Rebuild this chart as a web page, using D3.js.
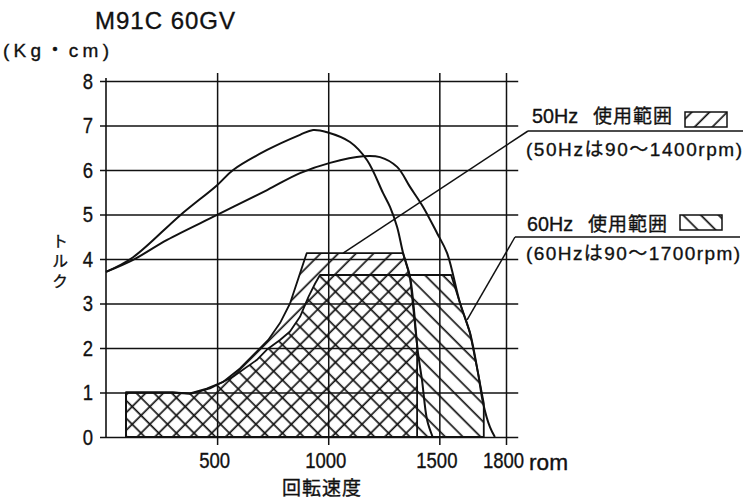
<!DOCTYPE html>
<html>
<head>
<meta charset="utf-8">
<script src="https://cdn.jsdelivr.net/npm/d3@7"></script>
<style>
  body { margin: 0; background: #fff; }
  svg { display: block; font-family: "Liberation Sans", "Noto Sans CJK JP", sans-serif; }
  text { fill: #111; stroke: #111; stroke-width: 0.35px; }
</style>
</head>
<body>
<svg id="chart" width="755" height="502"></svg>
<script>
const RPM_TICKS = [500, 1000, 1500, 1800];
const TORQUE_TICKS = [0, 1, 2, 3, 4, 5, 6, 7, 8];

// torque curves, [rpm, kg·cm]
const curve50 = [[0, 3.71], [122, 4.04], [333, 4.98], [500, 5.66], [572, 6.0], [725, 6.45], [873, 6.79],
    [932, 6.9], [995, 6.85], [1098, 6.63], [1175, 6.22], [1247, 5.48], [1278, 5.17], [1310, 4.72],
    [1337, 4.13], [1368, 3.6], [1404, 1.89], [1422, 1.28], [1445, 0.38], [1470, 0]];
const curve60 = [[0, 3.71], [122, 3.98], [275, 4.43], [500, 4.99], [725, 5.55], [873, 5.93], [1008, 6.16],
    [1157, 6.31], [1233, 6.29], [1310, 6.07], [1368, 5.62], [1427, 5.17], [1490, 4.58], [1535, 4.13],
    [1593, 3.01], [1638, 2.34], [1674, 1.44], [1697, 0.76], [1728, 0.22], [1750, 0]];

// outlines of the usable ranges (hatched)
const range50 = [[90, 0], [90, 1.0], [300, 1.0], [378, 0.98], [453, 1.09], [528, 1.24], [603, 1.54],
    [678, 1.92], [730, 2.18], [783, 2.56], [828, 3.0], [866, 3.57], [903, 4.13], [1337, 4.13],
    [1368, 3.6], [1400, 2.05], [1400, 0]];
const range60 = [[90, 0], [90, 1.0], [300, 1.0], [378, 0.97], [468, 1.09], [573, 1.36], [678, 1.73],
    [723, 1.96], [783, 2.18], [828, 2.37], [873, 2.7], [911, 3.15], [941, 3.45], [963, 3.64],
    [1553, 3.64], [1593, 3.01], [1638, 2.34], [1674, 1.44], [1700, 0.76], [1700, 0]];

const legendTitles = ["50Hz", "60Hz"];
const legendNames = ["使用範囲", "使用範囲"];
const legendNotes = ["(50Hzは90〜1400rpm)", "(60Hzは90〜1700rpm)"];
const leaderTargets = [[1067, 4.13], [1625, 2.63]];

const INK = "#111";
const DIGIT_W = 10.3; // the print uses a narrow face
const svg = d3.select("#chart");
const x = d3.scaleLinear().domain([0, 1800]).range([106, 506]);
const y = d3.scaleLinear().domain([0, 8]).range([437, 81]);

const defs = svg.append("defs");
const hatch = (id, angle) => {
    const p = defs.append("pattern")
        .attr("id", id)
        .attr("patternUnits", "userSpaceOnUse")
        .attr("width", 12.5)
        .attr("height", 12.5)
        .attr("patternTransform", `rotate(${angle})`);
    p.append("line")
        .attr("x1", 6).attr("y1", 0).attr("x2", 6).attr("y2", 12.5)
        .attr("stroke", INK).attr("stroke-width", 1.7);
};
hatch("h50", 45);
hatch("h60", -45);

// title + units
svg.append("text").attr("x", 95).attr("y", 29).attr("font-size", 24)
    .attr("textLength", 140).attr("lengthAdjust", "spacing").text("M91C 60GV");
svg.append("text").attr("x", 3).attr("y", 57).attr("font-size", 19)
    .attr("textLength", 106).attr("lengthAdjust", "spacing").text("(Kg・cm)");

const narrow = (sel) => sel
    .attr("textLength", function () { return this.textContent.length * DIGIT_W; })
    .attr("lengthAdjust", "spacingAndGlyphs");

// horizontal grid + torque labels
const gy = svg.append("g").attr("transform", "translate(100,0)")
    .call(d3.axisLeft(y).tickValues(TORQUE_TICKS).tickSize(-(x(1855) - 100)).tickPadding(7)
        .tickFormat(d3.format("d")));
gy.select(".domain").remove();
gy.attr("font-size", 22).attr("font-family", null);
gy.selectAll("line").attr("stroke", INK).attr("stroke-width", 1.5);
gy.selectAll("text").attr("fill", INK).call(narrow);

// vertical grid + rpm labels
const gx = svg.append("g").attr("transform", "translate(0,445)")
    .call(d3.axisBottom(x).tickValues(RPM_TICKS).tickSize(-(445 - 73)).tickPadding(7)
        .tickFormat(d3.format("d")));
gx.select(".domain").remove();
gx.attr("font-size", 22).attr("font-family", null);
gx.selectAll("line").attr("stroke", INK).attr("stroke-width", 1.5);
gx.selectAll("text").attr("fill", INK).attr("dx", -3).call(narrow);
svg.append("text").attr("x", 529).attr("y", 470).attr("font-size", 22)
    .attr("textLength", 39).attr("lengthAdjust", "spacingAndGlyphs").text("rom");

svg.append("line")
    .attr("x1", x(0)).attr("x2", x(0)).attr("y1", 78).attr("y2", y(0))
    .attr("stroke", INK).attr("stroke-width", 1.6);

// axis titles
svg.append("text").attr("x", 322).attr("y", 495).attr("font-size", 19)
    .attr("text-anchor", "middle").attr("letter-spacing", 1)
    .attr("font-family", "Noto Sans CJK JP").text("回転速度");
svg.append("text").attr("x", 60).attr("y", 233).attr("font-size", 16)
    .attr("writing-mode", "vertical-rl").attr("letter-spacing", 4)
    .attr("font-family", "Noto Sans CJK JP").text("トルク");

// hatched ranges
const poly = d3.line().x((d) => x(d[0])).y((d) => y(d[1]));
[[range60, "h60"], [range50, "h50"]].forEach(([r, id]) => {
    svg.append("path").attr("d", poly(r) + "Z").attr("fill", `url(#${id})`);
});
[range60, range50].forEach((r) => {
    svg.append("path").attr("d", poly(r) + "Z")
        .attr("fill", "none").attr("stroke", INK).attr("stroke-width", 1.8)
        .attr("stroke-linejoin", "round");
});

// torque curves
const smooth = d3.line().x((d) => x(d[0])).y((d) => y(d[1])).curve(d3.curveCatmullRom.alpha(0.5));
[curve50, curve60].forEach((c) => {
    svg.append("path").attr("d", smooth(c))
        .attr("fill", "none").attr("stroke", INK).attr("stroke-width", 2);
});

// legend with leader lines
const LEG = [
    { tx: 532, nx: 593, ty: 123, sw: [685, 112], ny: 156, nw: 216, ul: [528, 743, 131] },
    { tx: 527, nx: 588, ty: 231, sw: [680, 215], ny: 260, nw: 214, ul: [515, 740, 237] },
];
LEG.forEach((L, i) => {
    svg.append("text").attr("x", L.tx).attr("y", L.ty).attr("font-size", 20)
        .attr("textLength", 46).attr("lengthAdjust", "spacingAndGlyphs").text(legendTitles[i]);
    svg.append("text").attr("x", L.nx).attr("y", L.ty).attr("font-size", 19)
        .attr("textLength", 79).attr("lengthAdjust", "spacing")
        .attr("font-family", "Noto Sans CJK JP").text(legendNames[i]);
    svg.append("rect").attr("x", L.sw[0]).attr("y", L.sw[1]).attr("width", 42).attr("height", 15)
        .attr("fill", `url(#h${legendTitles[i].slice(0, 2)})`)
        .attr("stroke", INK).attr("stroke-width", 1.5);
    svg.append("text").attr("x", 526).attr("y", L.ny).attr("font-size", 19)
        .attr("textLength", L.nw).attr("lengthAdjust", "spacing").text(legendNotes[i]);
    svg.append("line").attr("x1", L.ul[0]).attr("x2", L.ul[1]).attr("y1", L.ul[2]).attr("y2", L.ul[2])
        .attr("stroke", INK).attr("stroke-width", 1.5);
    svg.append("line").attr("x1", L.ul[0]).attr("y1", L.ul[2])
        .attr("x2", x(leaderTargets[i][0])).attr("y2", y(leaderTargets[i][1]))
        .attr("stroke", INK).attr("stroke-width", 1.5);
});
</script>
</body>
</html>
